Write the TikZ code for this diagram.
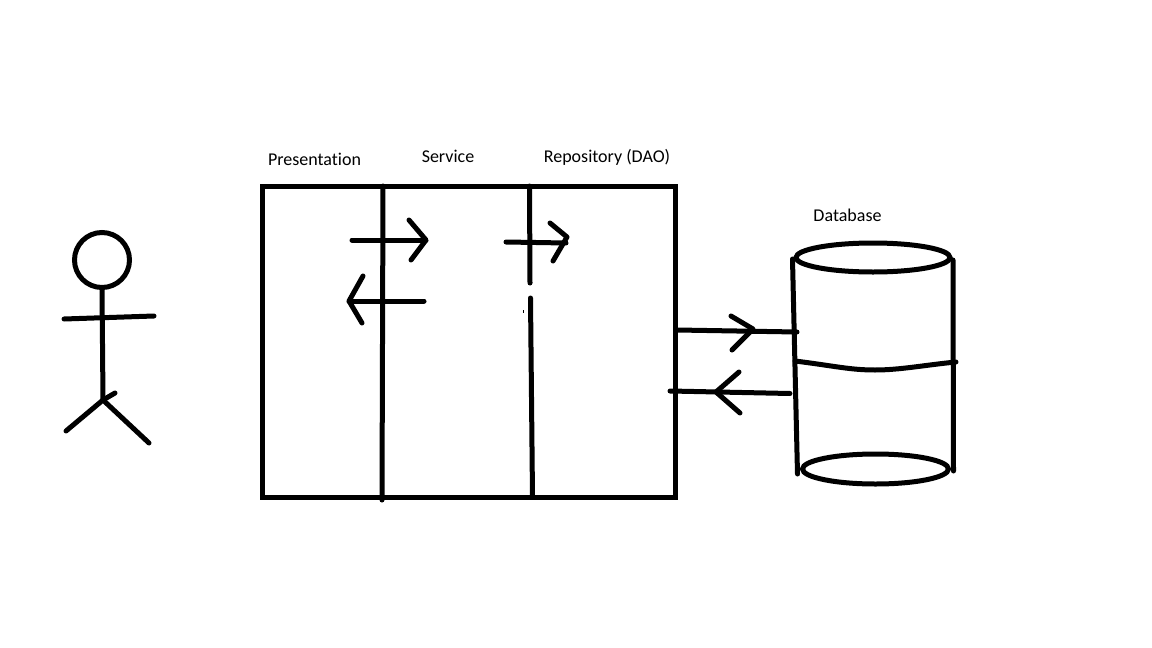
\documentclass[tikz,border=0pt]{standalone}
\usepackage{fontspec}
\setmainfont[Ligatures=NoCommon]{Carlito}
\usetikzlibrary{positioning, shapes.geometric}

\begin{document}
\begin{tikzpicture}[
        x=1pt, y=-1pt,
        ink/.style={draw=black, line width=5pt, line cap=round, line join=round},
        layer/.style={font=\fontsize{18}{21}\selectfont, inner sep=0pt},
        ring/.style={draw=black, line width=5pt, ellipse, inner sep=0pt, outer sep=0pt}
    ]
        \useasboundingbox (0,0) rectangle (1152,648);

        % Labels
        \node[layer] (presentation) at (314.5,159) {Presentation};
        \node[layer] (service) at (448,156) {Service};
        \node[layer] (repository) at (607,157.5) {Repository (DAO)};
        \node[layer] (database) at (847.5,215) {Database};

        % Person
        \node[draw=black, line width=5pt, circle, minimum size=55pt, inner sep=0pt, outer sep=0pt] (head) at (102,260) {};
        \coordinate (hip) at (103,400);
        \coordinate (handl) at (64,319);
        \coordinate (handr) at (154,316);
        \coordinate (footl) at (66,431);
        \coordinate (footr) at (149,443);
        \coordinate (tick) at (115,393);
        \draw[ink] (head.south) -- (hip);
        \draw[ink] (handl) -- (handr);
        \draw[ink] (footl) -- (hip) -- (footr);
        \draw[ink] (hip) -- (tick);

        % Layers box
        \node[draw=black, line width=5pt, rectangle, minimum width=413pt, minimum height=311pt, inner sep=0pt, outer sep=0pt] (layers) at (469,341.5) {};
        \coordinate (splita) at (383,186);
        \coordinate (splitb) at (382,500);
        \coordinate (splitc) at (529.5,186);
        \coordinate (splitd) at (530,283);
        \coordinate (splite) at (530.5,298);
        \coordinate (splitf) at (532.5,497);
        \draw[ink] (splita) -- (splitb);
        \draw[ink] (splitc) -- (splitd);
        \draw[ink] (splite) -- (splitf);
        \node[fill=black, inner sep=0pt, minimum width=1pt, minimum height=3pt] (speck) at (523.5,311) {};

        % Arrows between layers
        \coordinate (pstail) at (352,240);
        \coordinate (pstip) at (426,240);
        \coordinate (psup) at (409,220);
        \coordinate (psdown) at (411,260);
        \draw[ink] (pstail) -- (pstip);
        \draw[ink] (psup) -- (pstip) -- (psdown);

        \coordinate (sptail) at (424,301);
        \coordinate (sptip) at (349,301);
        \coordinate (spup) at (363,276);
        \coordinate (spdown) at (362,323);
        \draw[ink] (sptail) -- (sptip);
        \draw[ink] (spup) -- (sptip) -- (spdown);

        \coordinate (srtail) at (506,242);
        \coordinate (srend) at (566,243);
        \coordinate (srtip) at (567,237);
        \coordinate (srup) at (550,223);
        \coordinate (srdown) at (553,261);
        \draw[ink] (srtail) -- (srend);
        \draw[ink] (srup) -- (srtip) -- (srdown);

        % Database
        \node[ring, minimum width=154pt, minimum height=29pt] (dbtop) at (873,257.5) {};
        \node[ring, minimum width=146pt, minimum height=30pt] (dbbottom) at (875.5,469) {};
        \coordinate (dblefta) at (792.5,259);
        \coordinate (dbleftb) at (795,367);
        \coordinate (dbleftc) at (797.5,474);
        \coordinate (dbrighta) at (953,260);
        \coordinate (dbrightb) at (953.5,471);
        \coordinate (banda) at (795,361);
        \coordinate (bandb) at (956,362);
        \draw[ink] (dblefta) -- (dbleftb) -- (dbleftc);
        \draw[ink] (dbrighta) -- (dbrightb);
        \draw[ink] (banda) .. controls (835,366) and (850,370) .. (875,370) .. controls (900,370) and (925,365) .. (bandb);

        % Arrows to and from the database
        \coordinate (rdtail) at (677,330);
        \coordinate (rdend) at (797,332);
        \coordinate (rdtip) at (753,329);
        \coordinate (rdup) at (731,316);
        \coordinate (rddown) at (732,350);
        \draw[ink] (rdtail) -- (rdend);
        \draw[ink] (rdup) -- (rdtip) -- (rddown);

        \coordinate (drtail) at (790,393.5);
        \coordinate (drend) at (670,391);
        \coordinate (drtip) at (716,392);
        \coordinate (drup) at (739,372);
        \coordinate (drdown) at (740,413);
        \draw[ink] (drtail) -- (drend);
        \draw[ink] (drup) -- (drtip) -- (drdown);
    \end{tikzpicture}
\end{document}
